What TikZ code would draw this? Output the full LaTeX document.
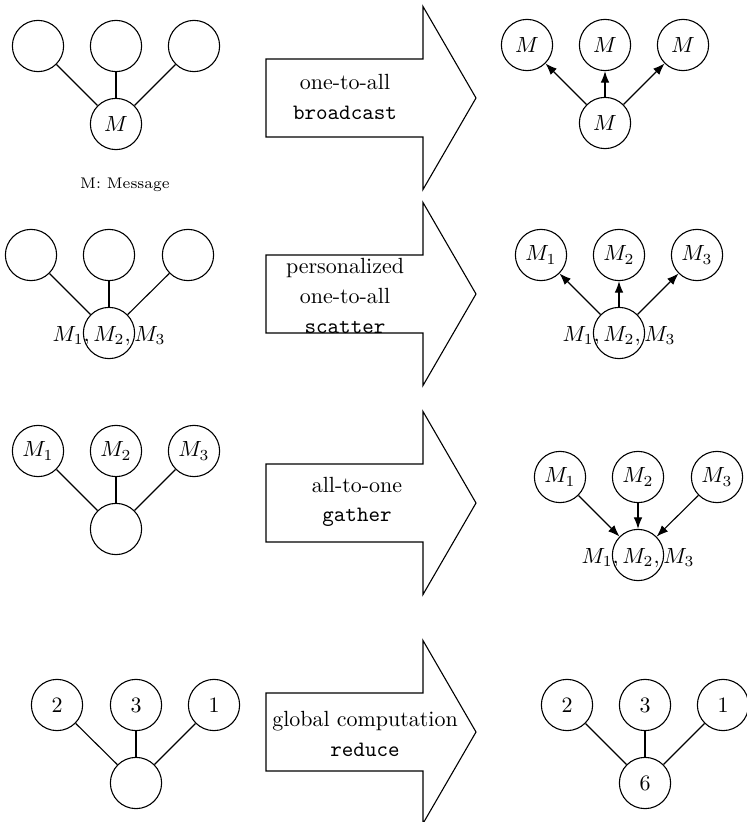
\documentclass[tikz,border=0pt]{standalone}
\usetikzlibrary{arrows.meta}
\tikzset{
  proc/.style={draw, circle, minimum size=0.82cm, inner sep=0pt},
  send/.style={-{Latex}},
  bigarrow/.style={draw, line join=miter},
  optext/.style={align=center},
  allmsg/.style={label={[yshift=-1.5pt]center:$M_1, M_2, M_3$}},
}

\begin{document}
\begin{tikzpicture}[x=0.016cm, y=-0.016cm, line width=0.5pt]
  \useasboundingbox (0,0) rectangle (746,822);
  % the four big arrows
  \foreach \c in {98,294,503,732}
    \draw[bigarrow] (266,{\c-39}) -- (423,{\c-39}) -- (423,{\c-91.5}) -- (476,\c)
      -- (423,{\c+91.5}) -- (423,{\c+39}) -- (266,{\c+39}) -- cycle;
  \node[optext] (atxt) at (345,97) {one-to-all\\[2pt] \texttt{broadcast}};
  \node[optext] (btxt) at (345,296) {personalized\\[1.5pt] one-to-all\\[1.5pt] \texttt{scatter}};
  \node[optext] (ctxt) at (357,502) {all-to-one\\[1.5pt] \texttt{gather}};
  \node[optext] (dtxt) at (365,734) {global computation\\[1.5pt] \texttt{reduce}};

  % broadcast
  \node[proc] (al1) at (38,46) {};
  \node[proc] (al2) at (116,46) {};
  \node[proc] (al3) at (194,46) {};
  \node[proc] (al0) at (116,124) {$M$};
  \node[font=\scriptsize] (akey) at (125,185) {M: Message};
  \node[proc] (ar1) at (527,45) {$M$};
  \node[proc] (ar2) at (605,45) {$M$};
  \node[proc] (ar3) at (683,45) {$M$};
  \node[proc] (ar0) at (605,123) {$M$};
  \foreach \i in {1,2,3} {
    \draw (al0) -- (al\i);
    \draw[send] (ar0) -- (ar\i);
  }

  % scatter
  \node[proc] (bl1) at (31,255) {};
  \node[proc] (bl2) at (109,255) {};
  \node[proc] (bl3) at (188,255) {};
  \node[proc, allmsg] (bl0) at (109,333) {};
  \node[proc] (br1) at (541,255) {$M_1$};
  \node[proc] (br2) at (619,255) {$M_2$};
  \node[proc] (br3) at (697,255) {$M_3$};
  \node[proc, allmsg] (br0) at (619,333) {};
  \foreach \i in {1,2,3} {
    \draw (bl0) -- (bl\i);
    \draw[send] (br0) -- (br\i);
  }

  % gather
  \node[proc] (cl1) at (38,451) {$M_1$};
  \node[proc] (cl2) at (116,451) {$M_2$};
  \node[proc] (cl3) at (194,451) {$M_3$};
  \node[proc] (cl0) at (116,529) {};
  \node[proc] (cr1) at (560,477) {$M_1$};
  \node[proc] (cr2) at (638,477) {$M_2$};
  \node[proc] (cr3) at (717,477) {$M_3$};
  \node[proc, allmsg] (cr0) at (638,555) {};
  \foreach \i in {1,2,3} {
    \draw (cl0) -- (cl\i);
    \draw[send] (cr\i) -- (cr0);
  }

  % reduce
  \node[proc] (dl1) at (57,705) {2};
  \node[proc] (dl2) at (136,705) {3};
  \node[proc] (dl3) at (214,705) {1};
  \node[proc] (dl0) at (136,783) {};
  \node[proc] (dr1) at (567,705) {2};
  \node[proc] (dr2) at (645,705) {3};
  \node[proc] (dr3) at (723,705) {1};
  \node[proc] (dr0) at (645,783) {6};
  \foreach \i in {1,2,3} {
    \draw (dl0) -- (dl\i);
    \draw (dr0) -- (dr\i);
  }
\end{tikzpicture}
\end{document}
